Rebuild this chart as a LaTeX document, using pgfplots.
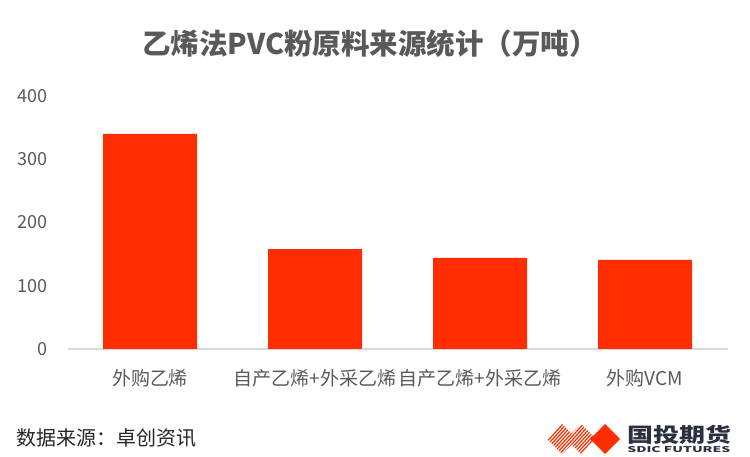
\documentclass[border=0pt]{standalone}
\usepackage{pgfplots}
\pgfplotsset{compat=1.18}
\usepackage{fontspec}
\setmainfont{Noto Sans CJK SC}
\definecolor{barred}{HTML}{FF2D00}
\definecolor{txtgray}{HTML}{595959}
\definecolor{axgray}{HTML}{D9D9D9}
\definecolor{logonavy}{HTML}{2B3040}
\begin{document}
\begin{tikzpicture}[x=1pt,y=1pt]
\path[use as bounding box] (0,0) rectangle (750,457);
\begin{axis}[
  at={(67.5pt,108pt)}, anchor=south west,
  scale only axis, width=660pt, height=253pt,
  xmin=-0.5, xmax=3.5, ymin=0, ymax=400,
  ybar, bar width=94pt,
  xtick={0,1,2,3},
  xticklabels={外购乙烯,自产乙烯+外采乙烯,自产乙烯+外采乙烯,外购VCM},
  ytick={0,100,200,300,400},
  axis x line=bottom, axis y line=left,
  x axis line style={draw=axgray, line width=2pt, -},
  y axis line style={draw=none},
  major tick length=0pt,
  /pgf/number format/assume math mode=true,
  yticklabel style={font=\fontsize{18}{20}\selectfont, text=txtgray, xshift=-16pt},
  xticklabel style={font=\fontsize{19}{22}\selectfont, text=txtgray, yshift=-17pt},
  clip=false,
]
\addplot[fill=barred, draw=none] coordinates {(0,340) (1,158) (2,144) (3,141)};
\end{axis}
\node[font=\fontsize{28.5}{33}\selectfont\bfseries, text=txtgray] at (370,413) {乙烯法PVC粉原料来源统计（万吨）};
\node[font=\fontsize{20}{24}\selectfont, text=black!85, anchor=west, inner sep=0] at (16,19) {数据来源：卓创资讯};
% logo
\begin{scope}
  \clip (547,18) -- (562,33) -- (577,18) -- (562,3) -- cycle
        (566,18) -- (581,33) -- (596,18) -- (581,3) -- cycle;
  \foreach \i in {0,...,20} {
    \draw[barred, line width=1.2pt] (528+\i*3.4,2) -- (558+\i*3.4,35);
  }
\end{scope}
\fill[barred] (590,18) -- (605,33) -- (620,18) -- (605,3) -- cycle;
\node[font=\fontsize{20}{24}\selectfont\bfseries, text=logonavy, anchor=west, inner sep=0, xscale=1.3] at (627,22) {国投期货};
\node[font=\fontsize{8}{9}\selectfont\bfseries, text=logonavy, anchor=west, inner sep=0, xscale=1.75] at (627,7) {SDIC FUTURES};
\end{tikzpicture}
\end{document}
